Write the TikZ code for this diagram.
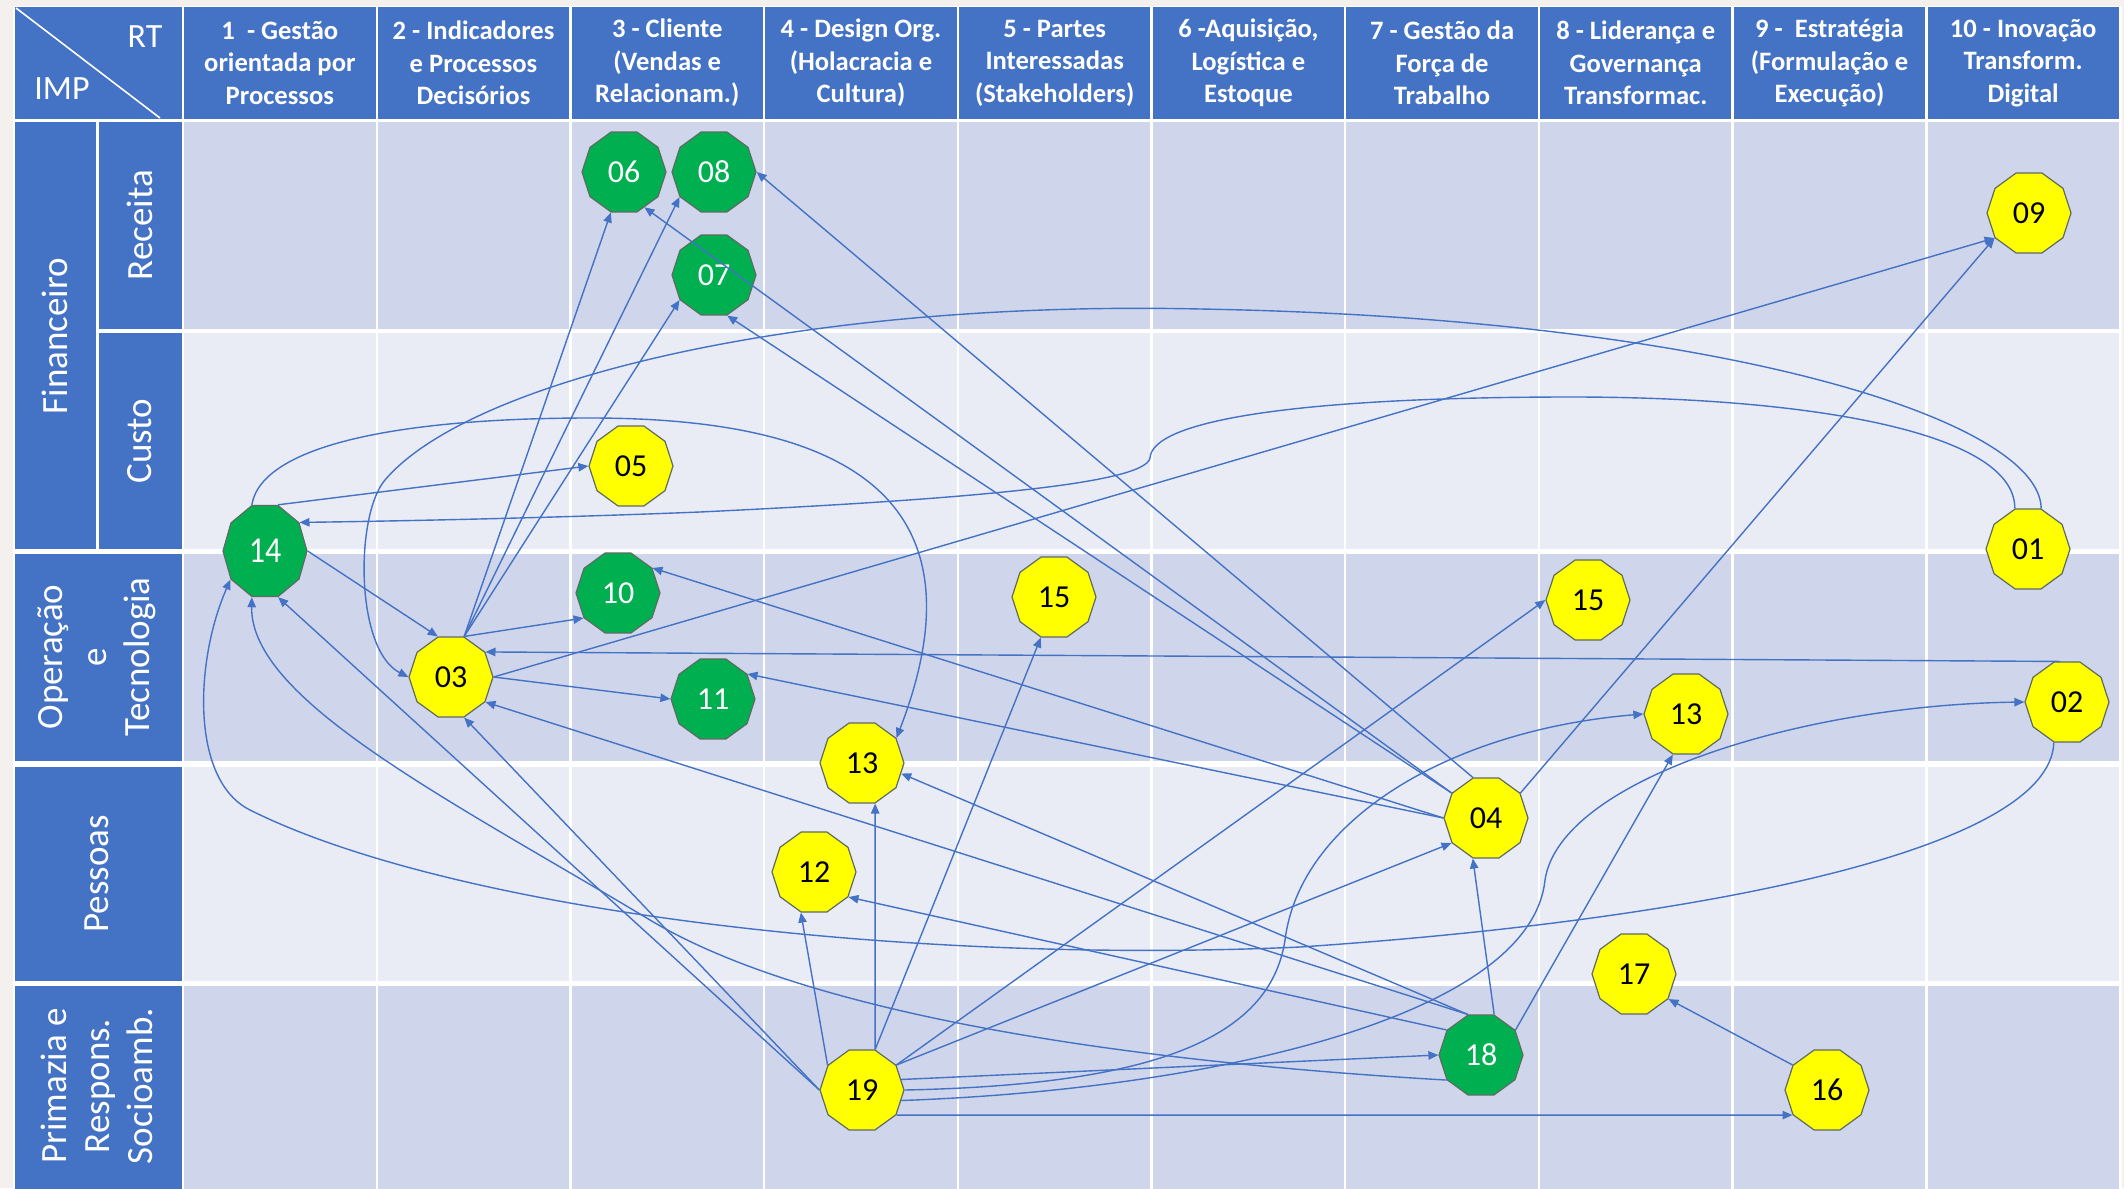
\documentclass[tikz,border=0pt]{standalone}
\usepackage{fontspec}
\setmainfont{Carlito}
\usetikzlibrary{shapes.geometric,arrows.meta}
\definecolor{hdrblue}{HTML}{4472C4}
\definecolor{banddark}{HTML}{CFD5EA}
\definecolor{bandlight}{HTML}{E9EBF5}
\definecolor{pagebg}{HTML}{F3F0EE}
\definecolor{linkblue}{HTML}{4472C4}
\definecolor{nodegreen}{HTML}{00B050}
\definecolor{nodeyellow}{HTML}{FFFF00}
\definecolor{rimgray}{HTML}{5E6B62}
\begin{document}
\begin{tikzpicture}[x=0.5pt,y=-0.5pt,
  decag/.style={regular polygon, regular polygon sides=10, minimum size=42pt,
    inner sep=0pt, draw=rimgray, line width=0.6pt, font=\fontsize{16}{16}\selectfont},
  greenbox/.style={decag, fill=nodegreen, text=white},
  yellowbox/.style={decag, fill=nodeyellow, text=black},
  link/.style={draw=linkblue, line width=0.7pt, -{Triangle[length=5pt,width=4.2pt]}},
  colhead/.style={text=white, align=center, font=\bfseries\fontsize{13.3}{16.3}\selectfont},
  rowhead/.style={text=white, align=center, rotate=90, font=\fontsize{18.5}{21.7}\selectfont},
  cornertext/.style={text=white, font=\fontsize{17}{17}\selectfont},
]
% page and table backing
\fill[pagebg] (0,0) rectangle (2124,1188);
\useasboundingbox (0,0) rectangle (2124,1188);
\fill[white] (13,6) rectangle (2122,1188);

% header row
\fill[hdrblue] (15,7) rectangle (181.8,119);
\foreach \k in {1,...,10}
  \fill[hdrblue] ({183+193.7*(\k-1)+1.2},7) rectangle ({183+193.7*\k-1.2},119);

% body bands
\foreach \ya/\yb/\c in {122/329/banddark, 333/549/bandlight, 554/761/banddark,
                        767/981/bandlight, 986/1190/banddark}
  \foreach \k in {1,...,10}
    \fill[\c] ({183+193.7*(\k-1)+1.2},\ya) rectangle ({183+193.7*\k-1.2},\yb);

% row label cells
\fill[hdrblue] (15,122) rectangle (96,549);
\fill[hdrblue] (98.5,122) rectangle (181.8,329);
\fill[hdrblue] (98.5,333) rectangle (181.8,549);
\fill[hdrblue] (15,554) rectangle (181.8,761);
\fill[hdrblue] (15,767) rectangle (181.8,981);
\fill[hdrblue] (15,986) rectangle (181.8,1190);

% corner cell
\draw[white, line width=0.8pt] (16,8) -- (160,118);
\node[cornertext] (rt) at (145,37) {RT};
\node[cornertext] (imp) at (62,89) {IMP};

% column headings
\node[colhead] (h1) at ({183+193.7*0.5},63) {1 \ - Gestão\\orientada por\\Processos};
\node[colhead] (h2) at ({183+193.7*1.5},63) {2 - Indicadores\\e Processos\\Decisórios};
\node[colhead] (h3) at ({183+193.7*2.5},63) {3 - Cliente\\(Vendas e\\Relacionam.)};
\node[colhead] (h4) at ({183+193.7*3.5},63) {4 - Design Org.\\(Holacracia e\\Cultura)};
\node[colhead] (h5) at ({183+193.7*4.5},63) {5 - Partes\\Interessadas\\(Stakeholders)};
\node[colhead] (h6) at ({183+193.7*5.5},63) {6 -Aquisição,\\Logística e\\Estoque};
\node[colhead] (h7) at ({183+193.7*6.5},63) {7 - Gestão da\\Força de\\Trabalho};
\node[colhead] (h8) at ({183+193.7*7.5},63) {8 - Liderança e\\Governança\\Transformac.};
\node[colhead] (h9) at ({183+193.7*8.5},63) {9 - \ Estratégia\\(Formulação e\\Execução)};
\node[colhead] (h10) at ({183+193.7*9.5},63) {10 - Inovação\\Transform.\\Digital};

% row headings
\node[rowhead] (fin) at (55,336) {Financeiro};
\node[rowhead] (rec) at (140,225) {Receita};
\node[rowhead] (cus) at (140,441) {Custo};
\node[rowhead] (opt) at (97,657) {Operação\\e\\Tecnologia};
\node[rowhead] (pes) at (97,874) {Pessoas};
\node[rowhead] (pri) at (97,1086) {Primazia e\\Respons.\\Socioamb.};

% items
\node[greenbox] (n06) at (624,172) {06};
\node[greenbox] (n08) at (714,172) {08};
\node[greenbox] (n07) at (714,275) {07};
\node[yellowbox] (n05) at (631,466) {05};
\begin{scope}[shift={(265,551)}, yscale=1.14]
  \node[greenbox, transform shape] (n14) at (0,0) {14};
\end{scope}
\node[greenbox] (n10) at (618,593) {10};
\node[yellowbox] (n15a) at (1054,597) {15};
\node[yellowbox] (n15b) at (1588,600) {15};
\node[yellowbox] (n03) at (451,677) {03};
\node[greenbox] (n11) at (713,699) {11};
\node[yellowbox] (n13a) at (862,763) {13};
\node[yellowbox] (n13b) at (1686,714) {13};
\node[yellowbox] (n02) at (2067,702) {02};
\node[yellowbox] (n09) at (2029,213) {09};
\node[yellowbox] (n01) at (2028,549) {01};
\node[yellowbox] (n04) at (1486,818) {04};
\node[yellowbox] (n12) at (814,872) {12};
\node[yellowbox] (n17) at (1634,974) {17};
\node[greenbox] (n18) at (1481,1055) {18};
\node[yellowbox] (n19) at (862,1090) {19};
\node[yellowbox] (n16) at (1827,1090) {16};

% links from 14
\draw[link] (n14.72) -- (n05.180);
\draw[link] (n14.0) -- (n03.108);
\draw[link] (n14.108) .. controls (262,445) and (400,418) .. (590,418)
  .. controls (800,418) and (1000,470) .. (n13a.36);

% links from 01
\draw[link] (n01.108) .. controls (2015,430) and (1800,397) .. (1572,397)
  .. controls (1300,397) and (1152,420) .. (1150,458)
  .. controls (1145,485) and (950,500) .. (700,512)
  .. controls (550,518) and (400,521) .. (n14.36);
\draw[link] (n01.72) .. controls (2040,420) and (1720,318) .. (1200,309)
  .. controls (800,300) and (470,380) .. (385,480)
  .. controls (355,515) and (355,650) .. (n03.180);

% links from 03
\draw[link] (n03.0) -- (n09.216);
\draw[link] (n03.72) -- (n06.252);
\draw[link] (n03.72) -- (n08.216);
\draw[link] (n03.72) -- (n07.216);
\draw[link] (n03.72) -- (n10.216);
\draw[link] (n03.0) -- (n11.180);

% links from 02
\draw[link] (n02.100) -- (n03.36);
\draw[link] (n02.252) .. controls (2050,850) and (1700,920) .. (1300,947)
  .. controls (900,965) and (450,910) .. (250,810)
  .. controls (190,780) and (195,660) .. (n14.216);

% links from 04
\draw[link] (n04.108) -- (n08.0);
\draw[link] (n04.144) -- (n06.300);
\draw[link] (n04.144) -- (n07.288);
\draw[link] (n04.180) -- (n10.36);
\draw[link] (n04.180) -- (n11.36);
\draw[link] (n04.36) -- (n09.216);

% links from 18
\draw[link] (n18.72) -- (n04.252);
\draw[link] (n18.36) -- (n13b.252);
\draw[link] (n18.108) -- (n03.324);
\draw[link] (n18.108) -- (n13a.345);
\draw[link] (n18.144) -- (n12.324);
\draw[link] (n18.216) .. controls (1100,1060) and (800,1010) .. (650,920)
  .. controls (450,800) and (250,700) .. (n14.252);

% links from 19
\draw[link] (n19.180) -- (n14.288);
\draw[link] (n19.180) -- (n03.288);
\draw[link] (n19.144) -- (n12.252);
\draw[link] (n19.72) -- (n13a.288);
\draw[link] (n19.72) -- (n15a.252);
\draw[link] (n19.36) -- (n15b.180);
\draw[link] (n19.36) -- (n04.216);
\draw[link] (n19.0) .. controls (1150,1085) and (1270,1040) .. (1285,940)
  .. controls (1300,820) and (1450,730) .. (n13b.180);
\draw[link] (n19.345) .. controls (1200,1090) and (1530,1020) .. (1545,880)
  .. controls (1560,780) and (1800,705) .. (n02.180);
\draw[link] (n19.15) -- (n18.180);
\draw[link] (n19.324) -- (n16.216);

% link from 16
\draw[link] (n16.144) -- (n17.324);
\end{tikzpicture}
\end{document}
